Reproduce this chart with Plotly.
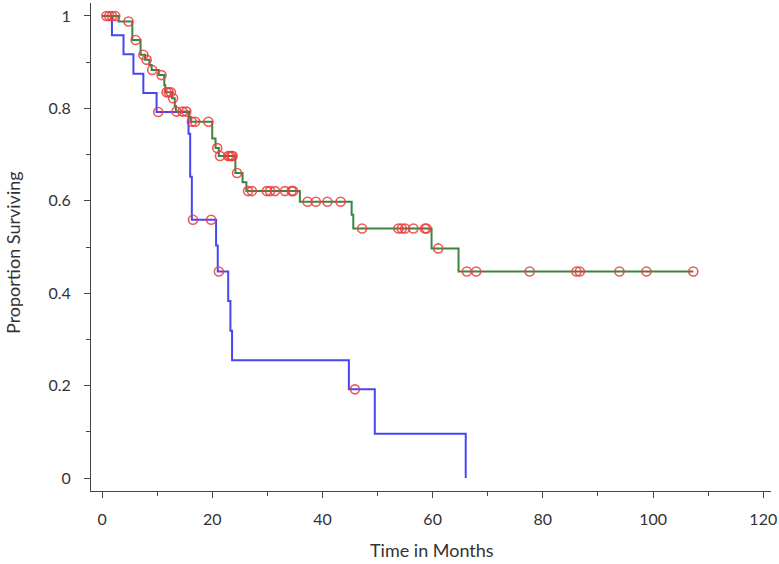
import plotly.graph_objects as go

# ---- data ----
# Group A (green): step times and survival after each step
green_step_t = [3.0, 5.5, 7.0, 7.8, 8.6, 9.0, 10.3, 11.3, 11.5, 12.7, 13.2, 13.4,
                15.8, 16.1, 20.0, 20.6, 21.2, 24.2, 25.5, 26.2, 35.9, 45.3, 45.6,
                59.8, 64.7]
green_step_v = [0.988, 0.948, 0.916, 0.905, 0.894, 0.883, 0.872, 0.850, 0.835, 0.822,
                0.805, 0.793, 0.782, 0.771, 0.735, 0.714, 0.697, 0.660, 0.640, 0.621,
                0.598, 0.570, 0.540, 0.497, 0.447]
green_end_t = 107.3
green_censor_t = [0.8, 1.3, 1.8, 2.4, 4.8, 6.1, 7.5, 8.1, 9.1, 10.8, 11.7, 12.1, 12.5, 12.9,
                  13.5, 14.6, 15.3, 16.3, 16.9, 19.3, 20.9, 21.4, 22.9, 23.2, 23.5,
                  23.7, 24.5, 26.5, 27.2, 29.9, 30.5, 31.4, 33.2, 34.4, 34.7, 37.3,
                  38.8, 40.9, 43.3, 47.2, 53.8, 54.4, 55.0, 56.5, 58.6, 58.9, 61.0,
                  66.2, 67.9, 77.6, 86.1, 86.7, 93.9, 98.8, 107.3]

# Group B (blue)
blue_step_t = [1.8, 3.9, 5.7, 7.5, 9.9, 15.7, 16.0, 16.3, 20.7, 21.0, 22.9, 23.3,
               23.6, 44.8, 49.5, 66.0]
blue_step_v = [0.958, 0.917, 0.875, 0.833, 0.792, 0.745, 0.652, 0.559, 0.503, 0.447,
               0.383, 0.319, 0.255, 0.192, 0.096, 0.0]
blue_censor_t = [10.2, 16.5, 19.8, 21.2, 45.9]

x_ticks = [0, 20, 40, 60, 80, 100, 120]
y_ticks = [0, 0.2, 0.4, 0.6, 0.8, 1]
y_tick_text = ["0", "0.2", "0.4", "0.6", "0.8", "1"]
x_title = "Time in Months"
y_title = "Proportion Surviving"


def surv_at(t, st, sv):
    v = 1.0
    for ti, vi in zip(st, sv):
        if t >= ti:
            v = vi
    return v


gx = [0] + green_step_t + [green_end_t]
gy = [1.0] + green_step_v + [green_step_v[-1]]
bx = [0] + blue_step_t
by = [1.0] + blue_step_v

marker_style = dict(symbol="circle-open", size=9, color="rgba(235,60,60,0.85)",
                    line=dict(width=1.6))

fig = go.Figure()
fig.add_trace(go.Scatter(x=bx, y=by, mode="lines", line=dict(color="#4646f2", width=2, shape="hv"),
                         showlegend=False, hoverinfo="skip"))
fig.add_trace(go.Scatter(x=gx, y=gy, mode="lines", line=dict(color="#3c8442", width=2, shape="hv"),
                         showlegend=False, hoverinfo="skip"))
fig.add_trace(go.Scatter(x=green_censor_t,
                         y=[surv_at(t, green_step_t, green_step_v) for t in green_censor_t],
                         mode="markers", marker=marker_style,
                         showlegend=False, hoverinfo="skip"))
fig.add_trace(go.Scatter(x=blue_censor_t,
                         y=[surv_at(t, blue_step_t, blue_step_v) for t in blue_censor_t],
                         mode="markers", marker=marker_style,
                         showlegend=False, hoverinfo="skip"))

font_family = "Lato, 'Open Sans', sans-serif"
fig.update_layout(
    width=779, height=564,
    margin=dict(l=91, r=8, t=3, b=73, autoexpand=False),
    paper_bgcolor="white", plot_bgcolor="white",
    font=dict(family=font_family, size=17, color="#333333"),
    xaxis=dict(range=[-2, 121.4], tickvals=x_ticks, ticktext=[str(v) for v in x_ticks],
               showgrid=False, zeroline=False, showline=True, linecolor="#444444", linewidth=1,
               ticks="outside", ticklen=6, tickcolor="#444444", automargin=False,
               ticklabelstandoff=8,
               minor=dict(dtick=10, ticks="outside", ticklen=4, tickcolor="#444444", showgrid=False),
               tickfont=dict(size=16)),
    yaxis=dict(range=[-0.028, 1.028], tickvals=y_ticks, ticktext=y_tick_text,
               showgrid=False, zeroline=False, showline=True, linecolor="#444444", linewidth=1,
               ticks="outside", ticklen=6, tickcolor="#444444", automargin=False,
               ticklabelstandoff=10,
               minor=dict(dtick=0.1, ticks="outside", ticklen=4, tickcolor="#444444", showgrid=False),
               tickfont=dict(size=16)),
    annotations=[
        dict(text=x_title, xref="paper", yref="paper", x=0.5015, y=-0.1209,
             xanchor="center", yanchor="middle", showarrow=False,
             font=dict(size=18, family=font_family, color="#333333")),
        dict(text=y_title, xref="paper", yref="paper", x=-0.1147, y=0.4877,
             xanchor="center", yanchor="middle", showarrow=False, textangle=-90,
             font=dict(size=18, family=font_family, color="#333333")),
    ],
)

fig.write_html("out.html", config={"displayModeBar": False},
               post_script="document.body.style.margin='0';document.body.style.overflow='hidden';")
